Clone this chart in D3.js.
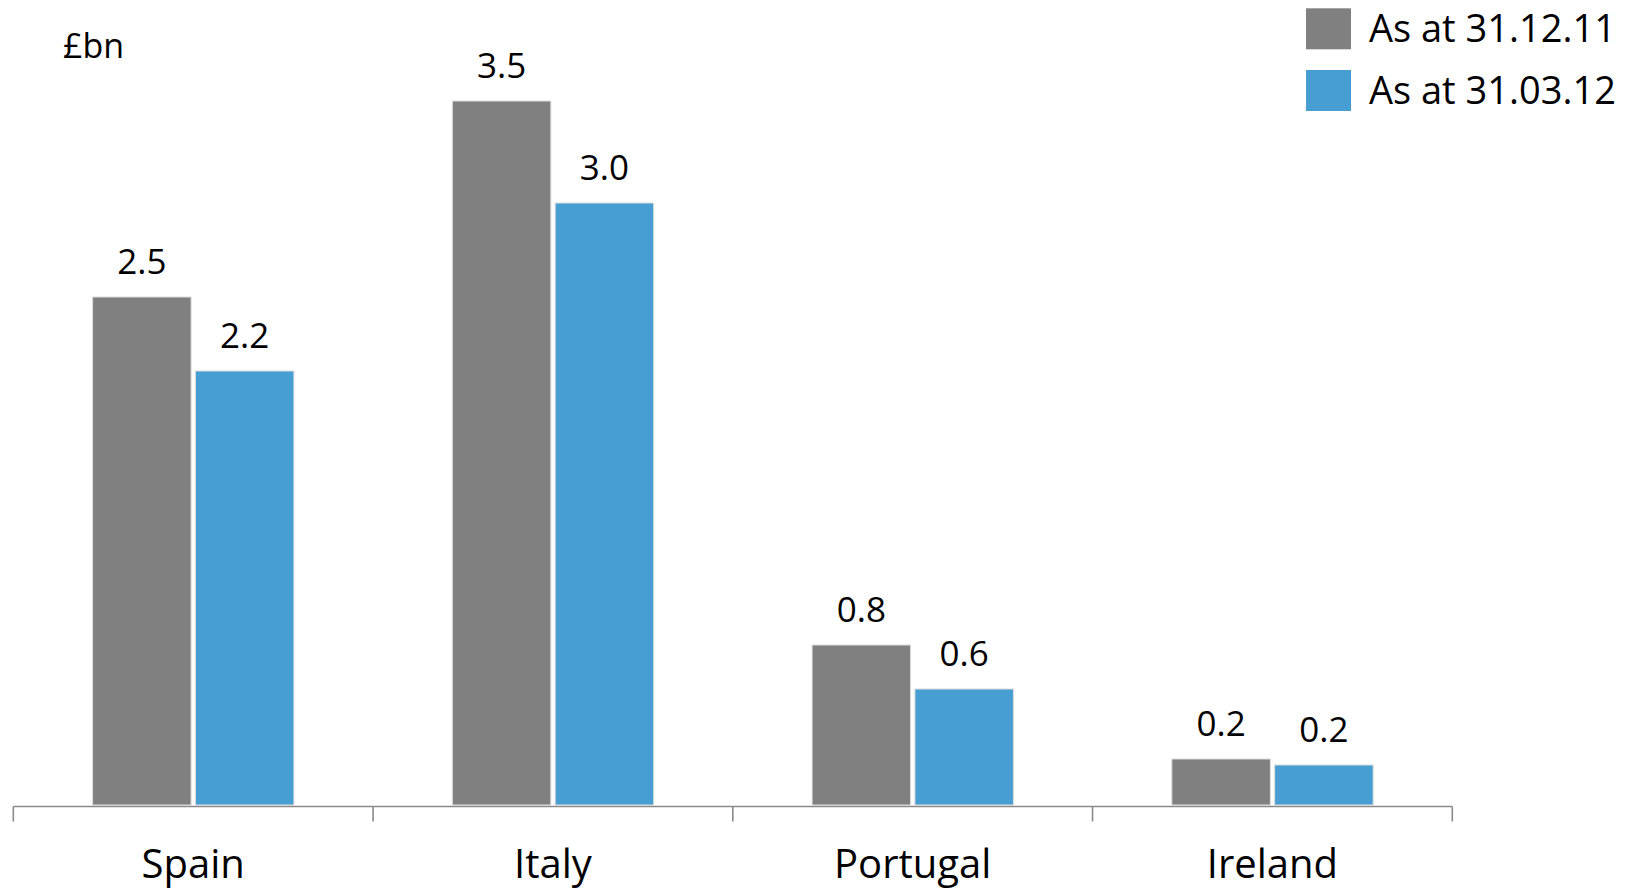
<!DOCTYPE html>
<html>
<head>
<meta charset="utf-8">
<script src="https://cdn.jsdelivr.net/npm/d3@7"></script>
<style>
  html, body { margin: 0; padding: 0; background: #ffffff; }
  svg { display: block; }
  text { font-family: "Open Sans", "Noto Sans", sans-serif; fill: #000; }
</style>
</head>
<body>
<svg id="chart" width="1638" height="889"></svg>
<script>
// ---- data ----
const categories = ["Spain", "Italy", "Portugal", "Ireland"];
const seriesNames = ["As at 31.12.11", "As at 31.03.12"];
const seriesDec11 = [2.54, 3.52, 0.80, 0.23];
const seriesMar12 = [2.17, 3.01, 0.58, 0.20];
const seriesColors = ["#808080", "#479ed2"];
const unitLabel = "£bn";

const seriesValues = [seriesDec11, seriesMar12];
const rows = categories.map((c, i) => ({
  category: c,
  values: seriesNames.map((s, j) => ({ series: s, value: seriesValues[j][i], color: seriesColors[j] }))
}));

const svg = d3.select("#chart");

const x0 = d3.scaleBand().domain(categories).range([13.3, 1452.3]).padding(0);
const x1 = d3.scaleBand().domain(seriesNames).range([79.3, 280.6]).paddingInner(0.042).paddingOuter(0);
const y = d3.scaleLinear().domain([0, 4]).range([805, 5]);
const fmt = d3.format(".1f");

// bars
const groups = svg.append("g").selectAll("g")
  .data(rows).join("g")
  .attr("transform", d => `translate(${x0(d.category)},0)`);

groups.selectAll("rect")
  .data(d => d.values).join("rect")
  .attr("x", d => x1(d.series))
  .attr("width", x1.bandwidth())
  .attr("y", d => y(d.value))
  .attr("height", d => y(0) - y(d.value))
  .attr("fill", d => d.color)
  .attr("stroke", "#dcdcdc")
  .attr("stroke-width", 1);

groups.selectAll("text.val")
  .data(d => d.values).join("text")
  .attr("class", "val")
  .attr("x", d => x1(d.series) + x1.bandwidth() / 2)
  .attr("y", d => y(d.value) - 23.5)
  .attr("text-anchor", "middle")
  .style("font-size", "35px")
  .text(d => fmt(d.value));

// axis
const axisY = 806.5;
const axisG = svg.append("g");
const [r0, r1] = x0.range();
axisG.append("line")
  .attr("x1", r0).attr("x2", r1)
  .attr("y1", axisY).attr("y2", axisY)
  .attr("stroke", "#8a8a8a").attr("stroke-width", 1.6);
const tickXs = categories.map(c => x0(c)).concat([r1]);
axisG.selectAll("line.tick")
  .data(tickXs).join("line")
  .attr("class", "tick")
  .attr("x1", d => d).attr("x2", d => d)
  .attr("y1", axisY).attr("y2", axisY + 15)
  .attr("stroke", "#8a8a8a").attr("stroke-width", 1.6);

const labelAxis = d3.axisBottom(x0).tickSize(0).tickPadding(0);
const la = svg.append("g").attr("transform", `translate(0,${axisY})`).call(labelAxis);
la.select(".domain").remove();
la.selectAll("text")
  .attr("dy", null)
  .attr("y", 71.5)
  .style("font-size", "40px")
  .style("font-family", "'Open Sans', 'Noto Sans', sans-serif")
  .attr("fill", "#000");

// unit label
svg.append("text")
  .attr("x", 63).attr("y", 58.3)
  .style("font-size", "34px")
  .text(unitLabel);

// legend
const legend = svg.append("g").selectAll("g")
  .data(seriesNames).join("g")
  .attr("transform", (d, i) => `translate(1306,${8.3 + i * 61.7})`);
legend.append("rect")
  .attr("width", 45).attr("height", 41)
  .attr("fill", (d, i) => seriesColors[i]);
legend.append("text")
  .attr("x", 63).attr("y", 33.5)
  .style("font-size", "38px")
  .text(d => d);
</script>
</body>
</html>
